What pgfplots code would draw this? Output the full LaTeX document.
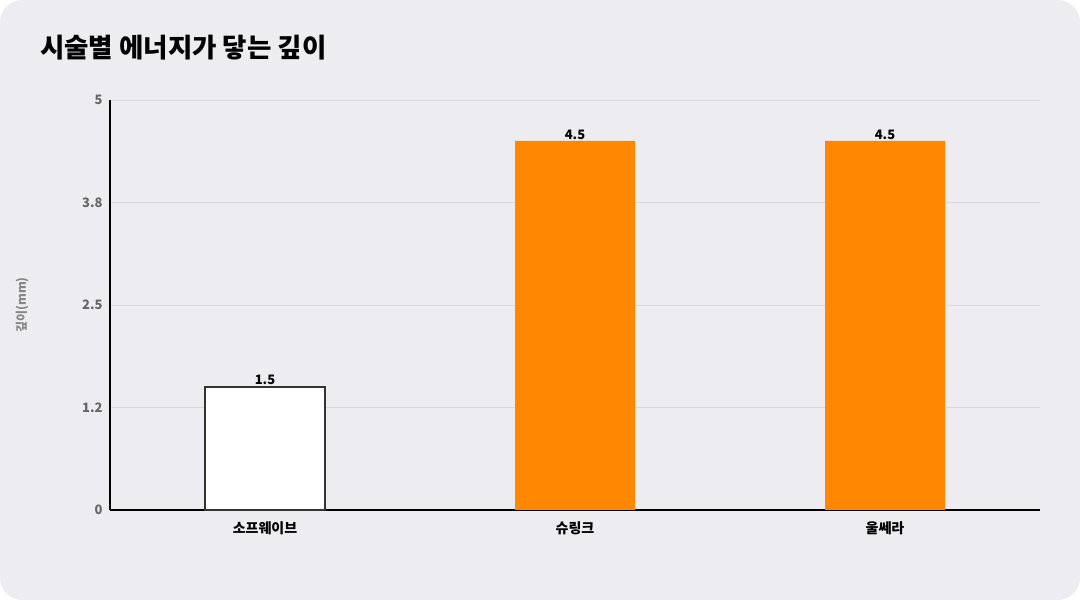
\documentclass[border=0pt]{standalone}
\usepackage{fontspec}
\setmainfont{Noto Sans CJK KR}
\usepackage{pgfplots}
\pgfplotsset{compat=1.18}
\definecolor{bgpanel}{HTML}{EDECF1}
\definecolor{barorange}{HTML}{FF8800}
\definecolor{gridgray}{HTML}{D9D8DE}
\definecolor{ticktext}{HTML}{666666}
\definecolor{bardark}{HTML}{333333}

\begin{document}
\begin{tikzpicture}
\fill[bgpanel, rounded corners=22bp] (0,0) rectangle (1080bp,600bp);
\node[anchor=base west, font=\fontsize{26.5bp}{30bp}\selectfont\bfseries, inner sep=0pt] at (40bp,542bp) {시술별 에너지가 닿는 깊이};
\node[rotate=90, font=\fontsize{12bp}{14bp}\selectfont\bfseries, text=ticktext!80] at (22bp,295bp) {깊이(mm)};
\begin{axis}[
    at={(110bp,90bp)}, anchor=south west,
    scale only axis,
    width=930bp, height=410bp,
    ybar, bar width=120bp, bar shift=0pt,
    xmin=-0.5, xmax=2.5,
    ymin=0, ymax=5,
    xtick={0,1,2},
    xticklabels={소프웨이브,슈링크,울쎄라},
    ytick={0,1.25,2.5,3.75,5},
    yticklabels={0,1.2,2.5,3.8,5},
    axis x line=bottom, axis y line=left,
    axis line style={-, black, line width=2bp},
    major tick length=0pt,
    ymajorgrids, grid style={gridgray, line width=0.8bp},
    x tick label style={font=\fontsize{14bp}{16bp}\selectfont\bfseries, yshift=-8bp},
    y tick label style={font=\fontsize{13bp}{15bp}\selectfont\bfseries, text=ticktext, xshift=-4bp},
    /pgf/number format/assume math mode=true,
    nodes near coords,
    nodes near coords style={font=\fontsize{13bp}{15bp}\selectfont\bfseries, text=black, yshift=-2bp},
    point meta=explicit symbolic,
    clip=false,
]
\addplot[fill=white, draw=bardark, line width=1.8bp] coordinates {(0,1.5) [1.5]};
\addplot[fill=barorange, draw=none] coordinates {(1,4.5) [4.5] (2,4.5) [4.5]};
\end{axis}
\end{tikzpicture}
\end{document}
